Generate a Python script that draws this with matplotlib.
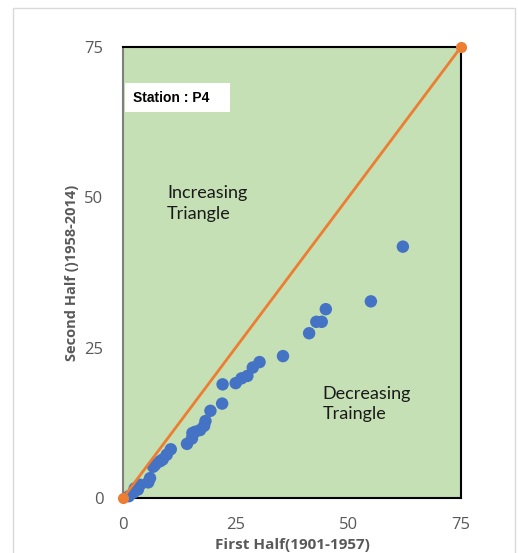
import matplotlib
matplotlib.use("Agg")
import matplotlib.pyplot as plt
from matplotlib.patches import Rectangle

# Data
first_half = [1.3, 2.3, 2.6, 3.3, 3.8, 5.6, 6.0, 6.7, 7.1, 8.2, 8.8, 9.7, 10.6,
              14.2, 15.3, 15.4, 16.0, 17.1, 18.0, 18.3, 19.4, 22.0, 22.1, 25.0,
              26.3, 27.6, 28.8, 30.3, 35.5, 41.3, 42.9, 44.1, 45.0, 55.0, 62.1]
second_half = [0.3, 0.9, 1.6, 1.4, 2.2, 2.6, 3.3, 5.2, 5.5, 6.1, 6.4, 7.2, 8.1,
               9.0, 9.9, 10.8, 11.0, 11.3, 12.0, 12.8, 14.5, 15.7, 18.9, 19.1,
               19.9, 20.3, 21.7, 22.6, 23.6, 27.4, 29.3, 29.3, 31.4, 32.7, 41.8]
line_x = [0, 75]
line_y = [0, 75]
ticks = [0, 25, 50, 75]

fig = plt.figure(figsize=(5.18, 5.53), dpi=100)
fig.patches.append(Rectangle((13/518, -0.05), (515-13)/518, 1 - 8/553 + 0.05,
                             transform=fig.transFigure, fill=False,
                             edgecolor="#D9D9D9", linewidth=1.0))

ax = fig.add_axes([123/518, 1 - 498/553, (461-123)/518, (498-47)/553])
ax.set_facecolor("#C5E0B4")
ax.set_xlim(0, 75)
ax.set_ylim(0, 75)

ax.scatter(first_half, second_half, s=80, color="#4472C4", zorder=3,
           edgecolors="none", clip_on=False)
ax.plot(line_x, line_y, color="#ED7D31", linewidth=2, marker="o",
        markersize=7, zorder=4, clip_on=False)

for side in ["top", "right", "bottom"]:
    ax.spines[side].set_color("black")
    ax.spines[side].set_linewidth(1.5)
ax.spines["left"].set_color("#7F7F7F")
ax.spines["left"].set_linewidth(1.5)

ax.set_xticks(ticks)
ax.set_yticks(ticks)
ax.tick_params(length=0, labelsize=12, labelcolor="#595959", pad=14)
for lab in ax.get_xticklabels() + ax.get_yticklabels():
    lab.set_family("Open Sans")

ax.set_xlabel("First Half(1901-1957)", fontsize=11, fontweight="bold",
              color="#595959", family="Open Sans", labelpad=3)
ax.set_ylabel("Second Half ()1958-2014)", fontsize=10.5, fontweight="bold",
              color="#595959", family="Open Sans", labelpad=4)

# Station label box
ax.add_patch(Rectangle((0.006, 0.856), 0.311, 0.064, transform=ax.transAxes,
                       facecolor="white", edgecolor="none", zorder=5))
ax.text(0.03, 0.888, "Station : P4", transform=ax.transAxes, fontsize=10,
        fontweight="bold", family="Liberation Sans", va="center", ha="left",
        zorder=6)
ax.text(0.13, 0.653, "Increasing\nTriangle", transform=ax.transAxes,
        fontsize=13, family="Lato", color="#1a1a1a", va="center",
        ha="left", linespacing=1.32)
ax.text(0.59, 0.208, "Decreasing\nTraingle", transform=ax.transAxes,
        fontsize=13, family="Lato", color="#1a1a1a", va="center",
        ha="left", linespacing=1.28)

fig.savefig("out.png", dpi=100)
